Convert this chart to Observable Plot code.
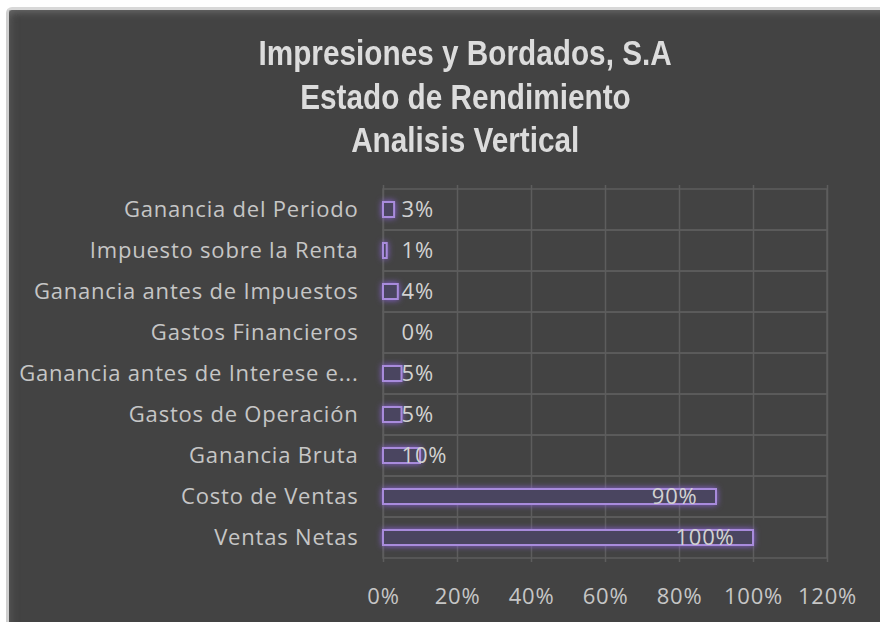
<!DOCTYPE html>
<html>
<head>
<meta charset="utf-8">
<script src="https://cdn.jsdelivr.net/npm/d3@7"></script>
<script src="https://cdn.jsdelivr.net/npm/@observablehq/plot@0.6"></script>
<style>
  html, body { margin: 0; padding: 0; background: #ffffff; }
  #wrap { position: relative; width: 880px; height: 622px; overflow: hidden; background: #ffffff; }
  #panel {
    position: absolute; left: 6px; top: 7px; width: 880px; height: 630px;
    background: #434343; border-left: 3px solid #cfcfcf; border-top: 3px solid #d8d8d8;
    border-radius: 6px 0 0 0;
    box-shadow: inset 0 6px 8px -4px #6a6a6a, inset 6px 0 8px -4px #555;
  }
  #title {
    position: absolute; left: 0; top: 31px; width: 930px; text-align: center;
    font-family: "Liberation Sans", Arial, sans-serif;
    font-weight: bold; font-size: 35px; line-height: 43.5px; color: #dcdcdc;
  }
  #title span { display: inline-block; transform: scaleX(0.85); transform-origin: center; white-space: nowrap; }
  #chart { position: absolute; left: 0; top: 170px; }
</style>
</head>
<body>
<div id="wrap">
  <div id="panel"></div>
  <div id="title"><span>Impresiones y Bordados, S.A</span><br><span>Estado de Rendimiento</span><br><span>Analisis Vertical</span></div>
  <div id="chart"></div>
</div>
<script>
const categories = [
  "Ventas Netas",
  "Costo de Ventas",
  "Ganancia Bruta",
  "Gastos de Operación",
  "Ganancia antes de Interese e...",
  "Gastos Financieros",
  "Ganancia antes de Impuestos",
  "Impuesto sobre la Renta",
  "Ganancia del Periodo"
];
const values = [100, 90, 10, 5, 5, 0, 4, 1, 3];
const xTicks = [0, 20, 40, 60, 80, 100, 120];

const data = categories.map((c, i) => ({cat: c, value: values[i]}));

const chart = Plot.plot({
  width: 880,
  height: 452,
  marginLeft: 383,
  marginRight: 53,
  marginTop: 15,
  marginBottom: 60,
  style: {background: "transparent", color: "#c6c6c6", fontFamily: "'Open Sans', sans-serif", fontSize: "22px", letterSpacing: "0.8px"},
  x: {domain: [0, 120], label: null},
  y: {domain: categories.slice().reverse(), padding: 0, label: null},
  marks: [
    Plot.barX(categories, {x1: 0, x2: 120, y: d => d, fill: "none", stroke: "#5d5d5d", strokeWidth: 1.5}),
    Plot.ruleX(xTicks, {stroke: "#5d5d5d", strokeWidth: 1.5}),
    Plot.barX(data.filter(d => d.value > 0), {
      x: "value", y: "cat", fill: "#4a4560", stroke: "#a88bdc", strokeWidth: 2,
      insetTop: 13, insetBottom: 13
    }),
    Plot.text(data.filter(d => d.value < 20), {
      x: 0, y: "cat", text: d => d.value + "%", textAnchor: "start", dx: 18, fill: "#d2d2d2"
    }),
    Plot.text(data.filter(d => d.value >= 20), {
      x: "value", y: "cat", text: d => d.value + "%", textAnchor: "end", dx: -19, fill: "#d2d2d2"
    }),
    Plot.axisX({ticks: xTicks, tickFormat: d => d + "%", tickSize: 0, tickPadding: 26, label: null}),
    Plot.axisY({tickSize: 0, tickPadding: 25, label: null})
  ]
});

const bars = chart.querySelectorAll('g[aria-label="bar"]');
if (bars.length) bars[bars.length - 1].style.filter = "drop-shadow(0 0 3px #8a62d6)";
document.getElementById("chart").appendChild(chart);
</script>
</body>
</html>
